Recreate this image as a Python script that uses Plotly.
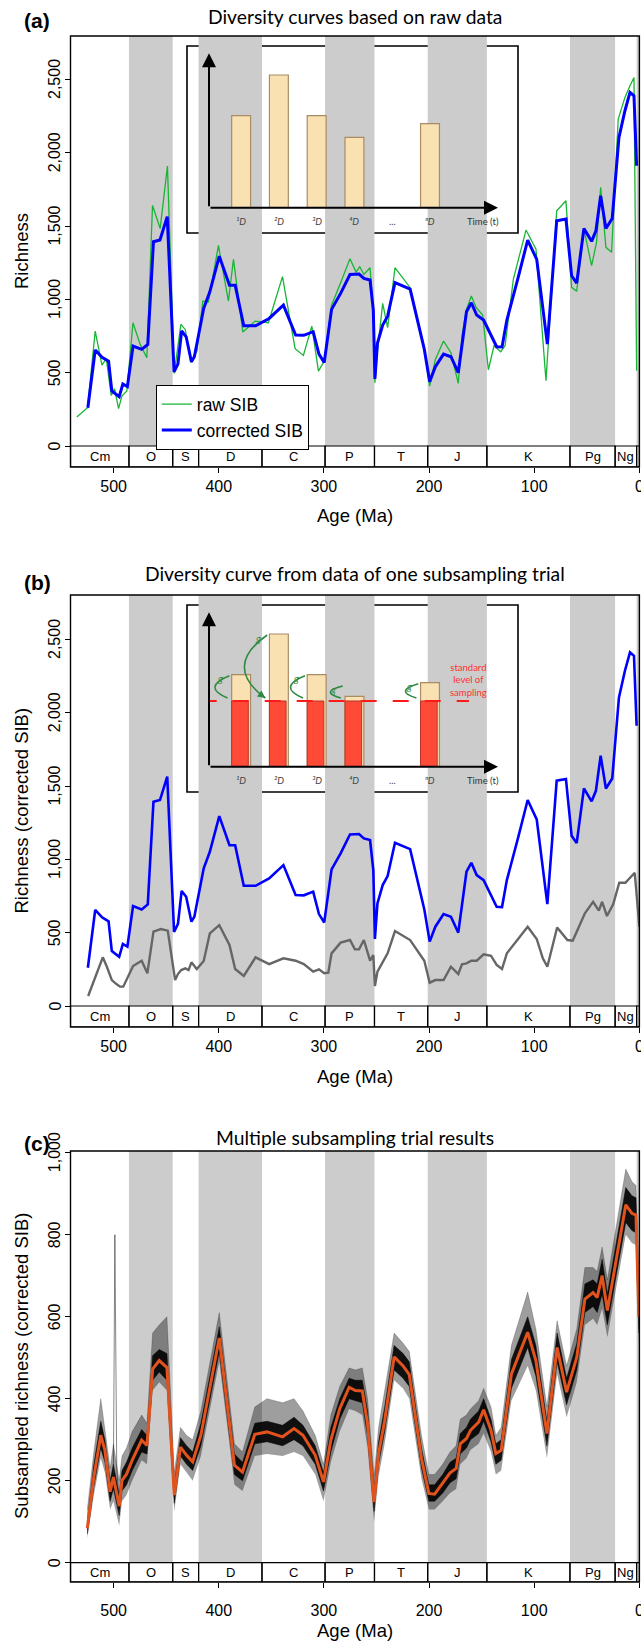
import plotly.graph_objects as go

W, H = 641, 1644
ARIAL = "Liberation Sans, Arial, Helvetica, sans-serif"
MYRIAD = "Lato, Open Sans, sans-serif"

# ---------------- data ----------------
period_names = ["Cm", "O", "S", "D", "C", "P", "T", "J", "K", "Pg", "Ng", "Q"]
period_start = [541.0, 485.4, 443.8, 419.2, 358.9, 298.9, 251.9, 201.3, 145.0, 66.0, 23.03, 2.58]
period_end = [485.4, 443.8, 419.2, 358.9, 298.9, 251.9, 201.3, 145.0, 66.0, 23.03, 2.58, 0.0]
period_shaded = [False, True, False, True, False, True, False, True, False, True, False, True]

age_ticks = [500, 400, 300, 200, 100, 0]
richness_ticks_ab = [0, 500, 1000, 1500, 2000, 2500]
richness_ticks_c = [0, 200, 400, 600, 800, 1000]

# (a) raw SIB
age_raw = [535.0, 524.8, 517.5, 511.1, 507.0, 502.3, 499.1, 495.3, 492.1, 487.4, 481.6, 474.7, 468.4,
           463.0, 455.7, 448.8, 442.4, 436.0, 431.9, 426.5, 420.8, 415.1, 409.8, 400.3, 390.8, 386.0,
           377.1, 365.4, 352.8, 339.4, 327.4, 319.5, 311.5, 305.2, 299.7, 292.7, 284.1, 275.2, 269.4,
           265.9, 262.0, 256.1, 253.0, 251.5, 249.1, 244.1, 239.4, 232.4, 218.0, 204.5, 199.4, 194.0,
           186.2, 179.2, 172.2, 168.7, 164.4, 159.8, 155.3, 149.0, 143.6, 138.2, 131.9, 127.7, 119.8,
           107.8, 98.3, 88.8, 78.6, 69.8, 64.4, 59.6, 52.7, 45.4, 40.7, 36.8, 31.8, 26.4, 20.1, 13.7,
           8.9, 5.1, 2.6]
raw_sib = [198, 261, 784, 552, 596, 345, 391, 255, 341, 375, 841, 693, 602,
           1641, 1484, 1909, 495, 830, 795, 568, 648, 989, 982, 1368, 989, 1273,
           777, 852, 841, 1155, 664, 618, 818, 511, 580, 960, 1114, 1277, 1186,
           1223, 1170, 1216, 900, 432, 650, 973, 807, 1216, 1080, 670, 409, 591,
           716, 636, 427, 750, 932, 1023, 946, 893, 520, 684, 643, 684, 1139,
           1473, 1343, 445, 1605, 1673, 1082, 1055, 1480, 1230, 1389, 1764, 1355, 1321, 2230, 2378,
           2457, 2514, 514]

# (a),(b) corrected SIB
age_corr = [524.5, 517.5, 511.0, 507.0, 504.8, 501.7, 494.7, 491.2, 486.9, 481.5, 473.3, 467.5, 462.1,
            455.9, 449.0, 442.5, 438.8, 435.3, 431.0, 426.0, 423.2, 414.3, 408.5, 399.5, 389.8, 384.4,
            376.2, 365.0, 352.1, 338.5, 326.9, 319.1, 310.2, 304.7, 299.7, 292.7, 284.1, 275.2, 266.6,
            262.0, 256.1, 253.0, 251.5, 249.1, 244.1, 239.4, 232.4, 218.0, 204.5, 199.4, 194.0, 186.2,
            179.2, 172.2, 168.7, 164.4, 159.8, 154.7, 148.1, 141.1, 135.7, 130.6, 126.0, 115.1, 106.2,
            97.6, 87.5, 78.6, 69.8, 64.4, 59.6, 52.7, 45.4, 41.3, 36.8, 31.8, 25.8, 19.4, 13.7, 8.9,
            5.1, 2.6]
corrected_sib = [261, 655, 605, 590, 578, 375, 336, 423, 405, 682, 659, 693, 1393,
                 1405, 1565, 505, 560, 785, 745, 575, 609, 939, 1052, 1295, 1097, 1097,
                 820, 820, 870, 961, 757, 755, 780, 627, 570, 932, 1041, 1170, 1173,
                 1143, 1132, 927, 457, 700, 825, 886, 1114, 1070, 659, 439, 541, 627,
                 609, 500, 700, 916, 977, 893, 859, 757, 677, 675, 859, 1154, 1405,
                 1273, 695, 1537, 1548, 1161, 1111, 1484, 1396, 1468, 1707, 1484, 1552, 2105, 2287, 2412,
                 2389, 1912]

# (b) one subsampling trial
age_trial = [524.2, 510.3, 506.4, 501.7, 497.0, 493.9, 490.8, 481.5, 473.3, 467.9, 462.1, 455.1, 448.5,
             441.5, 438.8, 435.7, 431.8, 428.7, 426.0, 420.9, 414.3, 408.5, 399.5, 389.8, 384.4, 376.2,
             365.0, 352.1, 338.5, 326.9, 319.1, 310.2, 304.7, 299.7, 295.8, 292.7, 284.1, 275.2, 270.5,
             266.6, 262.0, 256.1, 253.0, 251.5, 249.1, 239.4, 232.4, 218.0, 204.5, 199.4, 194.0, 186.2,
             179.2, 172.2, 168.7, 164.4, 159.8, 154.7, 148.1, 141.1, 135.7, 130.6, 126.0, 115.1, 106.2,
             97.6, 91.8, 87.5, 78.2, 68.4, 63.4, 58.8, 51.8, 44.0, 38.5, 35.4, 30.8, 24.9, 19.1, 13.3,
             4.4, 0.0]
trial_sib = [68, 332, 268, 177, 148, 132, 132, 273, 309, 223, 507, 525, 514,
             177, 218, 245, 257, 245, 298, 252, 307, 495, 552, 416, 252, 205,
             332, 286, 325, 309, 286, 234, 250, 223, 227, 359, 432, 450, 386,
             386, 450, 309, 348, 136, 234, 359, 511, 450, 309, 159, 177, 177,
             268, 218, 284, 291, 309, 309, 352, 343, 280, 252, 359, 457, 541,
             457, 325, 268, 536, 450, 445, 518, 632, 711, 650, 711, 614, 693, 841, 841,
             909, 541]

# (c) multiple subsampling trials: median and envelopes
age_multi = [525.0, 518.8, 512.2, 508.3, 503.3, 500.2, 494.7, 492.0, 487.7, 482.3, 473.3, 468.3,
             462.9, 456.6, 449.3, 442.3, 436.4, 430.6, 424.8, 417.0, 399.5, 385.1, 377.4, 365.7,
             354.1, 339.3, 328.4, 319.9, 308.2, 300.4, 293.4, 284.9, 276.0, 270.1, 263.5, 258.5,
             252.3, 248.0, 242.2, 233.2, 224.7, 218.8, 207.2, 200.2, 194.7, 187.0, 180.0, 174.2,
             170.3, 164.4, 160.6, 152.8, 148.1, 141.1, 136.5, 131.4, 121.7, 106.2, 98.4, 87.9,
             78.2, 69.2, 59.5, 51.8, 44.0, 40.1, 35.4, 30.4, 12.9, 7.1, 3.2, 0.5]
multi_median = [84, 209, 311, 274, 173, 209, 138, 201, 216, 250, 299, 286,
                472, 493, 476, 165, 282, 262, 246, 311, 548, 238, 221, 313,
                319, 307, 327, 311, 262, 197, 299, 376, 428, 420, 419, 339,
                148, 266, 347, 502, 480, 459, 254, 169, 167, 193, 219, 230,
                290, 303, 323, 343, 373, 323, 266, 274, 460, 562, 493, 315,
                525, 416, 501, 643, 659, 647, 700, 615, 873, 852, 848, 600]
multi_inner_lo = [70, 185, 280, 245, 150, 180, 115, 175, 190, 225, 270, 265,
                  445, 465, 445, 145, 260, 240, 225, 285, 515, 215, 200, 290,
                  295, 285, 300, 285, 240, 175, 270, 350, 400, 395, 390, 310,
                  125, 240, 320, 470, 450, 430, 230, 150, 150, 170, 195, 205,
                  265, 280, 300, 315, 345, 295, 240, 250, 425, 525, 455, 285,
                  490, 385, 470, 610, 625, 610, 655, 580, 830, 810, 805, 560]
multi_inner_hi = [100, 240, 345, 300, 200, 240, 165, 225, 245, 280, 325, 310,
                  505, 520, 510, 190, 305, 285, 270, 340, 575, 265, 245, 340,
                  345, 335, 355, 335, 285, 220, 330, 400, 450, 445, 445, 370,
                  175, 295, 380, 530, 510, 490, 280, 190, 190, 215, 245, 255,
                  315, 330, 350, 370, 400, 350, 290, 300, 495, 600, 530, 345,
                  560, 450, 535, 680, 690, 680, 740, 655, 915, 895, 890, 640]
multi_outer_lo = [60, 165, 255, 220, 130, 150, 90, 150, 165, 200, 250, 240,
                  420, 440, 420, 125, 240, 220, 200, 260, 490, 190, 175, 260,
                  265, 260, 270, 260, 215, 150, 245, 320, 375, 370, 360, 280,
                  100, 210, 290, 445, 425, 400, 205, 130, 130, 150, 170, 180,
                  240, 255, 275, 290, 315, 270, 215, 225, 395, 480, 420, 255,
                  460, 355, 440, 580, 595, 580, 620, 550, 800, 780, 775, 530]
multi_outer_hi = [130, 270, 400, 330, 230, 290, 200, 260, 280, 320, 360, 340,
                  560, 580, 600, 220, 330, 310, 300, 370, 610, 290, 270, 380,
                  400, 390, 400, 370, 310, 240, 360, 430, 475, 470, 475, 400,
                  210, 330, 420, 560, 535, 515, 310, 215, 215, 240, 270, 285,
                  350, 360, 375, 395, 425, 380, 310, 330, 530, 660, 570, 380,
                  590, 480, 570, 720, 720, 710, 770, 690, 960, 930, 920, 680]
outlier_age = [503.3, 500.2, 498.8, 497.0, 494.7]
outlier_val = [180, 215, 800, 230, 140]

# inset schematic
inset_positions = [1, 2, 3, 4, 6]
inset_labels = ["¹D", "²D", "³D", "⁴D", "ⁿD"]
inset_intensity = [2.76, 3.98, 2.76, 2.11, 2.52]
standard_level = 1.97

assert len(age_raw) == len(raw_sib)
assert len(age_corr) == len(corrected_sib)
assert len(age_trial) == len(trial_sib)
for arr in (multi_median, multi_inner_lo, multi_inner_hi, multi_outer_lo, multi_outer_hi):
    assert len(arr) == len(age_multi)

# ---------------- styling / geometry ----------------
GRAY = "#CCCCCC"
GREEN = "#19B534"
BLUE = "#0000FF"
TRIAL = "#666666"
ORANGE = "#E2521C"
TAN = "#F9E1B2"
TAN_EDGE = "#A88C66"
RED = "#FF4A38"
ARROW_GREEN = "#2E8A40"

XL, XR = 70.5, 639.4


def fx(px):
    return px / W


def fy(px):
    return 1.0 - px / H


PANELS = [
    dict(sfx="", top=36.0, zero=446.0, bottom=467.0, per_px=500 / 73.3, ticks=richness_ticks_ab,
         title="Diversity curves based on raw data", title_y=16.7, letter="(a)", letter_y=20.7,
         ytitle="Richness", xtitle_y=516.0, xstand=0),
    dict(sfx="2", top=595.0, zero=1006.0, bottom=1027.0, per_px=500 / 73.3, ticks=richness_ticks_ab,
         title="Diversity curve from data of one subsampling trial", title_y=573.3, letter="(b)",
         letter_y=582.7, ytitle="Richness (corrected SIB)", xtitle_y=1076.0, xstand=0),
    dict(sfx="3", top=1151.0, zero=1562.7, bottom=1582.0, per_px=200 / 82.0, ticks=richness_ticks_c,
         title="Multiple subsampling trial results", title_y=1137.0, letter="(c)", letter_y=1143.3,
         ytitle="Subsampled richness (corrected SIB)", xtitle_y=1630.0, xstand=9),
]

fig = go.Figure()

# ---- panel (a)
fig.add_trace(go.Scatter(x=age_raw, y=raw_sib, mode="lines", name="raw SIB",
                         line=dict(color=GREEN, width=1.3), xaxis="x", yaxis="y"))
fig.add_trace(go.Scatter(x=age_corr, y=corrected_sib, mode="lines", name="corrected SIB",
                         line=dict(color=BLUE, width=3), xaxis="x", yaxis="y"))
# ---- panel (b)
fig.add_trace(go.Scatter(x=age_corr, y=corrected_sib, mode="lines", showlegend=False,
                         line=dict(color=BLUE, width=2.6), xaxis="x2", yaxis="y2"))
fig.add_trace(go.Scatter(x=age_trial, y=trial_sib, mode="lines", showlegend=False,
                         line=dict(color=TRIAL, width=2.4), xaxis="x2", yaxis="y2"))
# ---- panel (c)
fig.add_trace(go.Scatter(x=age_multi, y=multi_outer_lo, mode="lines", showlegend=False,
                         line=dict(width=0, color="rgba(0,0,0,0)"), xaxis="x3", yaxis="y3", hoverinfo="skip"))
fig.add_trace(go.Scatter(x=age_multi, y=multi_outer_hi, mode="lines", showlegend=False, fill="tonexty",
                         fillcolor="rgba(0,0,0,0.38)", line=dict(width=0.6, color="rgba(0,0,0,0.35)"),
                         xaxis="x3", yaxis="y3", hoverinfo="skip"))
fig.add_trace(go.Scatter(x=age_multi, y=multi_inner_lo, mode="lines", showlegend=False,
                         line=dict(width=0.8, color="rgba(0,0,0,0.6)"), xaxis="x3", yaxis="y3", hoverinfo="skip"))
fig.add_trace(go.Scatter(x=age_multi, y=multi_inner_hi, mode="lines", showlegend=False, fill="tonexty",
                         fillcolor="rgba(0,0,0,0.9)", line=dict(width=0.8, color="rgba(0,0,0,0.6)"),
                         xaxis="x3", yaxis="y3", hoverinfo="skip"))
fig.add_trace(go.Scatter(x=outlier_age, y=outlier_val, mode="lines", showlegend=False,
                         line=dict(width=0.8, color="rgba(40,40,40,0.7)"), xaxis="x3", yaxis="y3"))
fig.add_trace(go.Scatter(x=age_multi, y=multi_median, mode="lines", showlegend=False,
                         line=dict(color=ORANGE, width=3), xaxis="x3", yaxis="y3"))

# ---- inset bars
fig.add_trace(go.Bar(x=inset_positions, y=inset_intensity, width=0.5, offset=-0.25, showlegend=False,
                     marker=dict(color=TAN, line=dict(color=TAN_EDGE, width=1.2)), xaxis="x4", yaxis="y4"))
fig.add_trace(go.Bar(x=inset_positions, y=inset_intensity, width=0.5, offset=-0.25, showlegend=False,
                     marker=dict(color=TAN, line=dict(color=TAN_EDGE, width=1.2)), xaxis="x5", yaxis="y5"))
fig.add_trace(go.Bar(x=inset_positions, y=[standard_level] * len(inset_positions), width=0.44, offset=-0.25,
                     showlegend=False, marker=dict(color=RED, line=dict(color="#B8342A", width=1)),
                     xaxis="x5", yaxis="y5"))
fig.add_trace(go.Scatter(x=[-0.07, 7.03], y=[standard_level, standard_level], mode="lines", showlegend=False,
                         line=dict(color="#FF1A1A", width=2, dash="16px,16px"), xaxis="x5", yaxis="y5"))

layout = dict(width=W, height=H, margin=dict(l=0, r=0, t=0, b=0), paper_bgcolor="white",
              plot_bgcolor="rgba(0,0,0,0)", barmode="overlay", showlegend=True)
shapes, annotations = [], []

for P in PANELS:
    s = P["sfx"]
    xr, yr = "x" + s, "y" + s
    ymax = (P["zero"] - P["top"]) * P["per_px"]
    ymin = -(P["bottom"] - P["zero"]) * P["per_px"]
    layout["xaxis" + s] = dict(domain=[fx(XL), fx(XR)], range=[541, -0.05], anchor=yr, tickvals=age_ticks,
                               ticks="outside", ticklen=5, tickwidth=1, tickcolor="black", showline=False,
                               showgrid=False, zeroline=False, ticklabelstandoff=P["xstand"],
                               ticklabeloverflow="allow",
                               tickfont=dict(family=ARIAL, size=16, color="black"), automargin=False)
    layout["yaxis" + s] = dict(domain=[fy(P["bottom"]), fy(P["top"])], range=[ymin, ymax], anchor=xr,
                               tickvals=P["ticks"], ticks="outside", showticklabels=False,
                               ticklen=5, tickwidth=1, tickcolor="black", showline=False, showgrid=False,
                               zeroline=False, automargin=False)
    # y tick labels (rotated, R style)
    for v in P["ticks"]:
        annotations.append(dict(xref="paper", yref=yr, x=fx(54.5), y=v, text=f"{v:,}", showarrow=False,
                                textangle=-90, xanchor="center", yanchor="middle",
                                font=dict(family=ARIAL, size=16, color="black")))
    for st, en, sh in zip(period_start, period_end, period_shaded):
        if sh:
            shapes.append(dict(type="rect", xref=xr, yref=yr, x0=st, x1=en, y0=0, y1=ymax,
                               fillcolor=GRAY, line=dict(width=0), layer="below"))
    if s in ("", "2"):
        h = P["bottom"] - P["top"]
        shapes.append(dict(type="rect", xref=xr + " domain", yref=yr + " domain",
                           x0=(187 - XL) / (XR - XL), x1=(518 - XL) / (XR - XL),
                           y0=(P["bottom"] - (P["top"] + 197)) / h, y1=(P["bottom"] - (P["top"] + 10)) / h,
                           fillcolor="white", line=dict(color="black", width=1.6), layer="below"))
    for name, st, en in zip(period_names, period_start, period_end):
        shapes.append(dict(type="rect", xref=xr, yref=yr, x0=st, x1=en, y0=ymin, y1=0,
                           fillcolor="rgba(0,0,0,0)", line=dict(color="black", width=1.2), layer="above"))
        if name != "Q":
            annotations.append(dict(xref=xr, yref=yr, x=(st + en) / 2, y=ymin / 2, text=name, showarrow=False,
                                    font=dict(family=ARIAL, size=13, color="black")))
    shapes.append(dict(type="rect", xref=xr + " domain", yref=yr + " domain", x0=0, x1=1, y0=0, y1=1,
                       line=dict(color="black", width=1.4), layer="above"))
    annotations.append(dict(xref="paper", yref="paper", x=fx((XL + XR) / 2), y=fy(P["title_y"]),
                            text=P["title"], showarrow=False, yanchor="middle",
                            font=dict(family=MYRIAD, size=19.3, color="black")))
    annotations.append(dict(xref="paper", yref="paper", x=fx(21.5), y=fy(P["letter_y"]),
                            text="<b>" + P["letter"] + "</b>", showarrow=False, yanchor="middle",
                            font=dict(family=ARIAL, size=21, color="black")))
    annotations.append(dict(xref="paper", yref="paper", x=fx(21.5), y=fy((P["top"] + P["bottom"]) / 2),
                            text=P["ytitle"], showarrow=False, textangle=-90, xanchor="center",
                            yanchor="middle", font=dict(family=ARIAL, size=18.5, color="black")))
    annotations.append(dict(xref="paper", yref="paper", x=fx((XL + XR) / 2), y=fy(P["xtitle_y"]),
                            text="Age (Ma)", showarrow=False, yanchor="middle",
                            font=dict(family=ARIAL, size=18.5, color="black")))

# ---- inset axes and decorations
for s, P in (("4", PANELS[0]), ("5", PANELS[1])):
    base_px = P["top"] + 171.7
    tip_px = P["top"] + 17.3
    xr, yr = "x" + s, "y" + s
    layout["xaxis" + s] = dict(domain=[fx(209), fx(498)], range=[0.15, 7.8], anchor=yr, visible=False)
    layout["yaxis" + s] = dict(domain=[fy(base_px), fy(tip_px)], range=[0, 4.63], anchor=xr, visible=False)
    for (x0, y0, x1, y1) in ((0.15, 0, 0.15, 4.63), (0.15, 0, 7.8, 0)):
        annotations.append(dict(xref=xr, yref=yr, axref=xr, ayref=yr, x=x1, y=y1, ax=x0, ay=y0, text="",
                                showarrow=True, arrowhead=2, arrowsize=1.4, arrowwidth=2, arrowcolor="black",
                                standoff=0, startstandoff=0))
    for pos, lab in zip(inset_positions, inset_labels):
        annotations.append(dict(xref=xr, yref=yr, x=pos, y=0, yshift=-14, text="<i>" + lab + "</i>",
                                showarrow=False, font=dict(family=MYRIAD, size=9.5, color="#444444")))
    annotations.append(dict(xref=xr, yref=yr, x=5, y=0, yshift=-14, text="...", showarrow=False,
                            font=dict(family=MYRIAD, size=9.5, color="#444444")))
    annotations.append(dict(xref=xr, yref=yr, x=7.4, y=0, yshift=-14, text="Time (t)", showarrow=False,
                            font=dict(family=MYRIAD, size=9.5, color="#333333")))
    annotations.append(dict(xref=xr, yref=yr, x=-0.22, y=2.87, text="Sampling intensity", showarrow=False,
                            textangle=-90, font=dict(family=MYRIAD, size=8.5, color="#333333")))

# green "g" arrows in inset (b)
for pos, hgt in zip(inset_positions, inset_intensity):
    sy = max(hgt - 0.03, standard_level + 0.45)
    sx = pos - 0.31
    ex, ey = pos - 0.36, standard_level + 0.09
    cx, cy = sx - (0.5 + 0.36 * (sy - ey)), (sy + ey) / 2
    shapes.append(dict(type="path", xref="x5", yref="y5", path=f"M {sx},{sy} Q {cx},{cy} {ex},{ey}",
                       line=dict(color=ARROW_GREEN, width=1.6), layer="above"))
    annotations.append(dict(xref="x5", yref="y5", axref="x5", ayref="y5", x=ex, y=ey,
                            ax=ex + 0.12 * (cx - ex), ay=ey + 0.12 * (cy - ey), text="", showarrow=True,
                            arrowhead=2, arrowsize=1, arrowwidth=1.5, arrowcolor=ARROW_GREEN, standoff=0))
    annotations.append(dict(xref="x5", yref="y5", x=pos - 0.56, y=sy - 0.08, text="<i>g</i>", showarrow=False,
                            font=dict(family=MYRIAD, size=10, color=ARROW_GREEN)))
annotations.append(dict(xref="x5", yref="y5", x=7.03, y=2.6, text="standard<br>level of<br>sampling",
                        showarrow=False, font=dict(family=MYRIAD, size=9.5, color="#FF3030")))

layout["shapes"] = shapes
layout["annotations"] = annotations
layout["legend"] = dict(x=fx(155.5), y=fy(385), xanchor="left", yanchor="top", bgcolor="white",
                        bordercolor="black", borderwidth=1.3, font=dict(family=ARIAL, size=17.5, color="black"),
                        tracegroupgap=0, itemwidth=30, traceorder="normal")
fig.update_layout(**layout)
fig.write_html("out.html", config={"displayModeBar": False},
               post_script="document.body.style.margin='0';document.body.style.padding='0';")
